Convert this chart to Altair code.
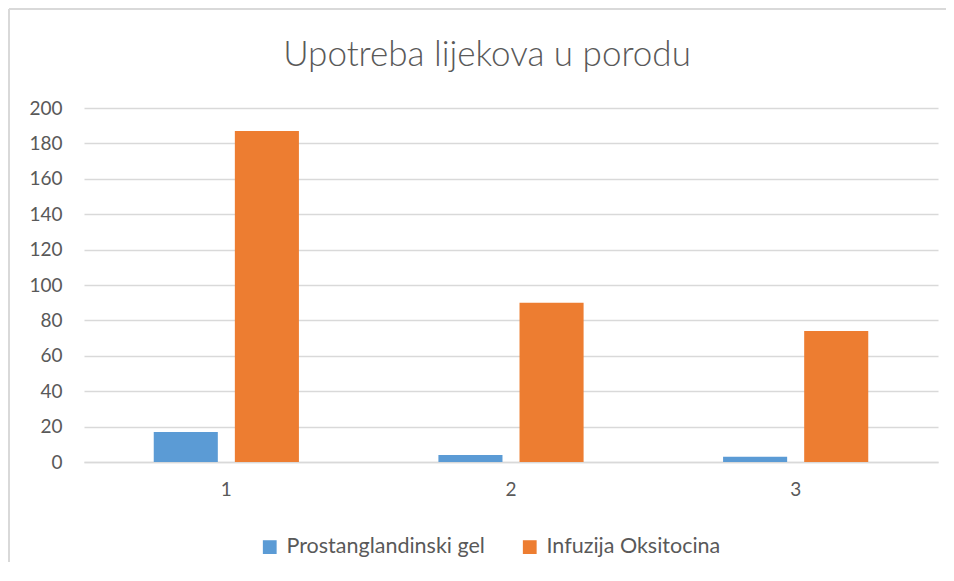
import altair as alt
import pandas as pd

categories = ["1", "2", "3"]
series = ["Prostanglandinski gel", "Infuzija Oksitocina"]
gel = [17, 4, 3]
oksitocin = [187, 90, 74]
title_text = "Upotreba lijekova u porodu"

rows = []
for i, c in enumerate(categories):
    rows.append({"kat": c, "serija": series[0], "vrijednost": gel[i]})
    rows.append({"kat": c, "serija": series[1], "vrijednost": oksitocin[i]})
df = pd.DataFrame(rows)

FONT = "Lato"
GREY = "#595959"

bars = alt.Chart(df).mark_bar().encode(
    x=alt.X("kat:N", title=None, sort=categories,
            scale=alt.Scale(paddingInner=0.49, paddingOuter=0.245),
            axis=alt.Axis(labelAngle=0, ticks=False, domain=True, domainColor="#d9d9d9",
                          domainWidth=1.5, labelPadding=18, labelFontSize=19,
                          labelColor=GREY, labelFont=FONT, grid=False)),
    xOffset=alt.XOffset("serija:N", sort=series,
                        scale=alt.Scale(paddingInner=0.21, paddingOuter=0)),
    y=alt.Y("vrijednost:Q", title=None,
            scale=alt.Scale(domain=[0, 200]),
            axis=alt.Axis(values=list(range(0, 201, 20)), ticks=False, domain=False,
                          gridColor="#d9d9d9", gridWidth=1.3, labelPadding=22,
                          labelFontSize=19, labelColor=GREY, labelFont=FONT)),
    color=alt.Color("serija:N", sort=series,
                    scale=alt.Scale(domain=series, range=["#5b9bd5", "#ed7d31"]),
                    legend=alt.Legend(title=None, orient="none", direction="horizontal",
                                      legendX=175, legendY=428, symbolType="square",
                                      symbolSize=190, symbolStrokeWidth=0, labelLimit=0,
                                      labelFontSize=21.5, labelColor=GREY, labelFont=FONT,
                                      columnPadding=34, labelOffset=6)),
)

title = alt.Chart(pd.DataFrame({"t": [title_text]})).mark_text(
    font=FONT, fontSize=35, fontWeight=300, color=GREY, baseline="alphabetic", align="center"
).encode(text="t:N", x=alt.value(403), y=alt.value(-42))

border = alt.Chart(df).mark_rule(color="#d9d9d9", strokeWidth=2).encode(
    x=alt.value(-75), x2=alt.value(-75), y=alt.value(-99), y2=alt.value(470)
)
border_top = alt.Chart(df).mark_rule(color="#d9d9d9", strokeWidth=2).encode(
    x=alt.value(-75), x2=alt.value(862), y=alt.value(-99), y2=alt.value(-99)
)

chart = alt.layer(border, border_top, bars, title).properties(
    width=854, height=354,
    autosize=alt.AutoSizeParams(type="none"),
    padding={"left": 76, "top": 100, "right": 8, "bottom": 100},
).configure_view(stroke=None)

chart.save("out.html", embed_options={"renderer": "svg", "actions": False})
